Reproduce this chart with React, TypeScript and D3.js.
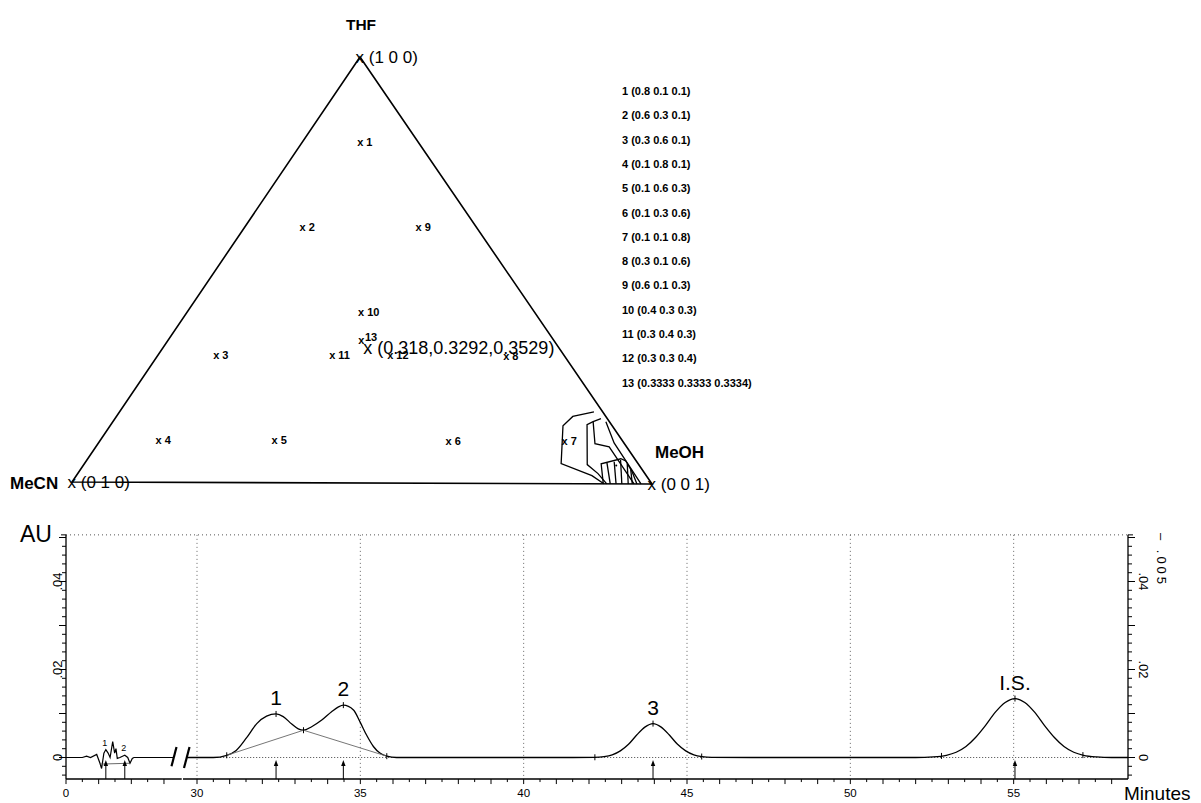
import React from 'react';
import * as d3 from 'd3';

// ---------------- Ternary data ----------------
const POINT_IDS = ['1', '2', '3', '4', '5', '6', '7', '8', '9', '10', '11', '12', '13'];
const THF_FR = [0.8, 0.6, 0.3, 0.1, 0.1, 0.1, 0.1, 0.3, 0.6, 0.4, 0.3, 0.3, 0.3333];
const MECN_FR = [0.1, 0.3, 0.6, 0.8, 0.6, 0.3, 0.1, 0.1, 0.1, 0.3, 0.4, 0.3, 0.3333];
const MEOH_FR = [0.1, 0.1, 0.1, 0.1, 0.3, 0.6, 0.8, 0.6, 0.3, 0.3, 0.3, 0.4, 0.3334];
const OPTIMUM = [0.318, 0.3292, 0.3529];
const VERTEX_NAMES = ['THF', 'MeCN', 'MeOH'];
const VERTEX_TAGS = ['(1 0 0)', '(0 1 0)', '(0 0 1)'];

// contour lines near MeOH corner, as [THF, MeOH] fractions
const CONTOUR_LINES: number[][][] = [
  [[0.169, 0.816], [0.158, 0.785], [0.136, 0.779], [0.047, 0.82], [0.019, 0.887], [0, 0.917]],
  [[0.153, 0.836], [0.146, 0.826], [0.139, 0.819], [0.045, 0.866], [0.024, 0.895], [0, 0.922]],
  [[0.146, 0.826], [0.094, 0.855], [0.087, 0.883], [0, 0.969]],
  [[0.146, 0.848], [0.096, 0.887], [0, 0.981]],
  [[0, 0.916], [0.047, 0.889], [0.059, 0.917], [0.054, 0.928], [0.028, 0.952], [0, 0.974]],
  [[0, 0.928], [0.049, 0.898]],
  [[0, 0.938], [0.052, 0.909]],
  [[0, 0.948], [0.056, 0.918]],
  [[0, 0.959], [0.047, 0.934]],
  [[0, 0.966], [0.033, 0.947]],
];

// ---------------- Chromatogram data ----------------
const LEFT_T = [0, 0.5, 0.63, 0.75, 0.94, 1.04, 1.09, 1.16, 1.22, 1.29, 1.35, 1.43, 1.49, 1.53, 1.57, 1.65, 1.73, 1.8, 1.89, 1.96, 2.03, 2.08, 3.3];
const LEFT_AU = [0, 0, 0.0003, 0, 0.0007, -0.0013, -0.0025, 0.001, 0.0018, 0.001, 0, 0.0036, 0.001, 0.002, -0.0002, 0, 0.0003, 0.0005, 0, -0.0013, -0.0002, 0, 0];

const MAIN_T = [29.7, 30.5, 30.91, 31.2, 31.52, 31.83, 32.13, 32.42, 32.64, 32.9, 33.1, 33.26, 33.51, 33.82, 34.12, 34.33, 34.48, 34.79, 34.99, 35.19, 35.4, 35.6, 35.81, 36.11, 38, 41.5,
  42.16, 42.46, 42.71, 42.96, 43.21, 43.46, 43.71, 43.96, 44.21, 44.46, 44.71, 44.96, 45.21, 45.46, 45.76, 47, 50, 52.0,
  52.54, 52.94, 53.24, 53.54, 53.84, 54.14, 54.44, 54.74, 55.04, 55.34, 55.64, 55.94, 56.24, 56.54, 56.84, 57.14, 57.54, 58.0, 58.5];
const MAIN_AU = [0, 0, 0.0005, 0.0016, 0.0045, 0.0077, 0.0094, 0.0099, 0.0093, 0.0076, 0.0065, 0.0062, 0.007, 0.0085, 0.0104, 0.0115, 0.0119, 0.0108, 0.0081, 0.0051, 0.0025, 0.001, 0.0003, 0, 0, 0,
  0.00004, 0.0002, 0.0006, 0.0015, 0.003, 0.0051, 0.0069, 0.0077, 0.0069, 0.0051, 0.003, 0.0015, 0.0006, 0.0002, 0.00004, 0, 0, 0,
  0.00013, 0.0005, 0.0012, 0.0025, 0.0046, 0.0073, 0.0103, 0.0125, 0.0134, 0.0125, 0.0103, 0.0073, 0.0046, 0.0025, 0.0012, 0.0005, 0.00013, 0, 0];

const PEAK_NAMES = ['1', '2', '3', 'I.S.'];
const PEAK_T = [32.42, 34.48, 43.96, 55.04];
const PEAK_AU = [0.0099, 0.0119, 0.0077, 0.0134];
const PEAK_MARK_T = [30.91, 33.26, 35.81, 42.18, 45.45, 52.79, 57.12];
const PAIR_BASE_T = [30.91, 33.26, 35.81];
const PAIR_BASE_AU = [0.0005, 0.0062, 0.0003];
const SMALL_NAMES = ['1', '2'];
const SMALL_T = [1.22, 1.8];
const SMALL_AU = [0.0018, 0.0005];
const SMALL_BASE_T = [1.04, 1.96];
const SMALL_BASE_AU = [-0.0015, -0.0013];

const X_LABELS_MAIN = [30, 35, 40, 45, 50, 55];
const Y_LABELS = [0, 0.02, 0.04];
const Y_MIN = -0.0049;
const Y_MAX = 0.0506;

const FONT = '"Liberation Sans", Arial, Helvetica, sans-serif';

export default function App() {
  // ternary geometry
  const apex = { x: 360, y: 57 };
  const vL = { x: 72, y: 482 };
  const vR = { x: 652, y: 484 };
  const bX = d3.scaleLinear().domain([0, 1]).range([0, vL.x - apex.x]);
  const bY = d3.scaleLinear().domain([0, 1]).range([0, vL.y - apex.y]);
  const cX = d3.scaleLinear().domain([0, 1]).range([0, vR.x - apex.x]);
  const cY = d3.scaleLinear().domain([0, 1]).range([0, vR.y - apex.y]);
  const tern = (b: number, c: number): [number, number] => [apex.x + bX(b) + cX(c), apex.y + bY(b) + cY(c)];

  const contourLine = d3.line<number[]>()
    .x(d => tern(1 - d[0] - d[1], d[1])[0])
    .y(d => tern(1 - d[0] - d[1], d[1])[1]);

  // chromatogram scales
  const xLeft = d3.scaleLinear().domain([0, 3.5]).range([66, 180.3]);
  const xMain = d3.scaleLinear().domain([30, 58.5]).range([197, 1128]);
  const y = d3.scaleLinear().domain([0, 0.05]).range([757.5, 537.5]);
  const yTop = y(Y_MAX);
  const yBot = y(Y_MIN);
  const xL0 = xLeft(0);
  const xR = xMain(58.5);

  const leftPts = LEFT_T.map((t, i) => [t, LEFT_AU[i]]);
  const mainPts = MAIN_T.map((t, i) => [t, MAIN_AU[i]]);
  const leftLine = d3.line<number[]>().x(d => xLeft(d[0])).y(d => y(d[1]));
  const mainLine = d3.line<number[]>().x(d => xMain(d[0])).y(d => y(d[1])).curve(d3.curveMonotoneX);
  const pairBase = d3.line<number[]>().x(d => xMain(d[0])).y(d => y(d[1]));

  const yTicks = d3.range(-0.004, 0.0501, 0.002);
  const isMajor = (v: number) => Math.abs(v / 0.01 - Math.round(v / 0.01)) < 1e-6;
  const xTicksMain = d3.range(30, 58.01, 0.5);
  const xTicksLeft = d3.range(0, 3.01, 0.5);

  const valueAt = (t: number) => {
    const i = d3.bisectLeft(MAIN_T, t);
    if (i <= 0) return MAIN_AU[0];
    if (i >= MAIN_T.length) return MAIN_AU[MAIN_AU.length - 1];
    const t0 = MAIN_T[i - 1], t1 = MAIN_T[i];
    return MAIN_AU[i - 1] + (MAIN_AU[i] - MAIN_AU[i - 1]) * (t - t0) / (t1 - t0);
  };

  const arrow = (x: number, key: string) => (
    <g key={key}>
      <line x1={x} x2={x} y1={yBot} y2={yBot - 15} stroke="#000" strokeWidth={1} />
      <path d={`M${x},${yBot - 19} L${x - 2.2},${yBot - 13} L${x + 2.2},${yBot - 13} Z`} fill="#000" />
    </g>
  );

  const fmtY = (v: number) => (v === 0 ? '0' : d3.format('.2f')(v).replace(/^0/, ''));

  return (
    <svg width={1201} height={803} style={{ position: 'absolute', left: 0, top: 0, background: '#fff' }} fontFamily={FONT}>
      <rect x={0} y={0} width={1201} height={803} fill="#fff" />
      {/* ---------- Ternary diagram ---------- */}
      <path d={`M${apex.x},${apex.y} L${vL.x},${vL.y} L${vR.x},${vR.y} Z`} fill="none" stroke="#000" strokeWidth={1.6} strokeLinejoin="miter" />
      {CONTOUR_LINES.map((ln, i) => (
        <path key={'c' + i} d={contourLine(ln) || ''} fill="none" stroke="#000" strokeWidth={1.3} />
      ))}
      <circle cx={tern(0.04, 0.917)[0]} cy={tern(0.04, 0.917)[1]} r={1} fill="#000" />

      {/* vertex labels */}
      <text x={apex.x + 1} y={30} fontSize={15.5} fontWeight="bold" textAnchor="middle">{VERTEX_NAMES[0]}</text>
      <text x={apex.x - 4.5} y={apex.y + 5.5} fontSize={17}>{'x ' + VERTEX_TAGS[0]}</text>
      <text x={10} y={vL.y + 7} fontSize={17} fontWeight="bold">{VERTEX_NAMES[1]}</text>
      <text x={vL.x - 4.5} y={vL.y + 6} fontSize={17}>{'x ' + VERTEX_TAGS[1]}</text>
      <text x={655} y={458} fontSize={17} fontWeight="bold">{VERTEX_NAMES[2]}</text>
      <text x={vR.x - 4.5} y={vR.y + 6} fontSize={17}>{'x ' + VERTEX_TAGS[2]}</text>

      {/* experiment points */}
      {POINT_IDS.map((id, i) => {
        const [px, py] = tern(MECN_FR[i], MEOH_FR[i]);
        if (id === '13') {
          return (
            <text key={'p' + i} x={px - 3} y={py + 3} fontSize={11} fontWeight="bold">
              x<tspan dx={0.5} dy={-3}>{id}</tspan>
            </text>
          );
        }
        return (
          <text key={'p' + i} x={px - 3.2} y={py + 3.8} fontSize={11} fontWeight="bold">{'x ' + id}</text>
        );
      })}
      {(() => {
        const [ox, oy] = tern(OPTIMUM[1], OPTIMUM[2]);
        return (
          <text x={ox - 5} y={oy + 6} fontSize={18}>{`x (${OPTIMUM.join(',')})`}</text>
        );
      })()}

      {/* legend list */}
      {POINT_IDS.map((id, i) => (
        <text key={'l' + i} x={622} y={95 + i * 24.3} fontSize={11} fontWeight="bold">
          {`${id} (${THF_FR[i]} ${MECN_FR[i]} ${MEOH_FR[i]})`}
        </text>
      ))}

      {/* ---------- Chromatogram ---------- */}
      <line x1={xL0} x2={xR} y1={yTop} y2={yTop} stroke="#555" strokeWidth={1} strokeDasharray="1,3" />
      {X_LABELS_MAIN.map(v => (
        <line key={'g' + v} x1={xMain(v)} x2={xMain(v)} y1={yTop} y2={yBot} stroke="#666" strokeWidth={1} strokeDasharray="1,3" />
      ))}
      <line x1={xMain(29.7)} x2={xR} y1={y(0)} y2={y(0)} stroke="#444" strokeWidth={1} strokeDasharray="1,2" />

      {/* left axis */}
      <line x1={xL0} x2={xL0} y1={yTop} y2={yBot} stroke="#000" strokeWidth={1.3} />
      {yTicks.map((v, i) => (
        <line key={'yl' + i} x1={xL0 - (isMajor(v) ? 7 : 4)} x2={xL0} y1={y(v)} y2={y(v)} stroke="#000" strokeWidth={1} />
      ))}
      <line x1={xL0 - 5} x2={xL0} y1={yTop} y2={yTop} stroke="#000" strokeWidth={1} />
      {Y_LABELS.map(v => (
        <text key={'ylab' + v} transform={`translate(${xL0 - 4},${y(v)}) rotate(-90)`} fontSize={13} textAnchor="middle">{fmtY(v)}</text>
      ))}
      <text x={20} y={542} fontSize={23}>AU</text>

      {/* right axis */}
      <line x1={xR} x2={xR} y1={yTop} y2={yBot} stroke="#000" strokeWidth={1.3} />
      {yTicks.map((v, i) => (
        <line key={'yr' + i} x1={xR} x2={xR + (isMajor(v) ? 7 : 4)} y1={y(v)} y2={y(v)} stroke="#000" strokeWidth={1} />
      ))}
      <line x1={xR} x2={xR + 5} y1={yTop} y2={yTop} stroke="#000" strokeWidth={1} />
      {Y_LABELS.map(v => (
        <text key={'yrlab' + v} transform={`translate(${xR + 11},${y(v)}) rotate(90)`} fontSize={13} textAnchor="middle">{fmtY(v)}</text>
      ))}
      <text transform={`translate(${1157},${560}) rotate(90)`} fontSize={13} textAnchor="middle" letterSpacing={3}>– .005</text>

      {/* bottom axis */}
      <line x1={xL0} x2={181.7} y1={yBot} y2={yBot} stroke="#000" strokeWidth={1.4} />
      <line x1={183} x2={xR} y1={yBot} y2={yBot} stroke="#000" strokeWidth={1.4} />
      {xTicksLeft.map((t, i) => (
        <line key={'xl' + i} x1={xLeft(t)} x2={xLeft(t)} y1={yBot} y2={yBot + (Number.isInteger(t) ? 5 : 3)} stroke="#000" strokeWidth={1} />
      ))}
      {xTicksMain.map((t, i) => (
        <line key={'xm' + i} x1={xMain(t)} x2={xMain(t)} y1={yBot} y2={yBot + (Number.isInteger(t) ? 5 : 3)} stroke="#000" strokeWidth={1} />
      ))}
      <text x={xLeft(0)} y={797} fontSize={11.5} textAnchor="middle">0</text>
      {X_LABELS_MAIN.map(v => (
        <text key={'xlab' + v} x={xMain(v)} y={797} fontSize={11.5} textAnchor="middle">{v}</text>
      ))}
      <text x={1124} y={800} fontSize={19}>Minutes</text>

      {/* signal */}
      <path d={leftLine(leftPts) || ''} fill="none" stroke="#000" strokeWidth={1.2} />
      <path d={mainLine(mainPts) || ''} fill="none" stroke="#000" strokeWidth={1.3} />
      <path d={pairBase(PAIR_BASE_T.map((t, i) => [t, PAIR_BASE_AU[i]])) || ''} fill="none" stroke="#666" strokeWidth={0.9} />
      <line x1={xLeft(SMALL_BASE_T[0])} x2={xLeft(SMALL_BASE_T[1])} y1={y(SMALL_BASE_AU[0])} y2={y(SMALL_BASE_AU[1])} stroke="#444" strokeWidth={0.8} />

      {/* axis break marks */}
      <line x1={171.5} x2={176.5} y1={y(-0.002)} y2={y(0.0024)} stroke="#000" strokeWidth={2.2} />
      <line x1={184} x2={189.5} y1={y(-0.0024)} y2={y(0.0024)} stroke="#000" strokeWidth={2.2} />

      {/* peak integration marks */}
      {PEAK_T.concat(PEAK_MARK_T).map((t, i) => {
        const px = xMain(t);
        const py = y(valueAt(t));
        return <line key={'pm' + i} x1={px} x2={px} y1={py - 3} y2={py + 3} stroke="#000" strokeWidth={1} />;
      })}

      {/* peak labels and arrows */}
      {PEAK_NAMES.map((n, i) => (
        <text key={'pn' + i} x={xMain(PEAK_T[i])} y={y(PEAK_AU[i]) - 9} fontSize={21} textAnchor="middle">{n}</text>
      ))}
      {PEAK_T.map((t, i) => arrow(xMain(t), 'a' + i))}
      {SMALL_NAMES.map((n, i) => (
        <text key={'sn' + i} x={xLeft(SMALL_T[i]) - 1} y={y(SMALL_AU[i]) - 4} fontSize={9} textAnchor="middle">{n}</text>
      ))}
      {SMALL_T.map((t, i) => arrow(xLeft(t), 'sa' + i))}
    </svg>
  );
}
